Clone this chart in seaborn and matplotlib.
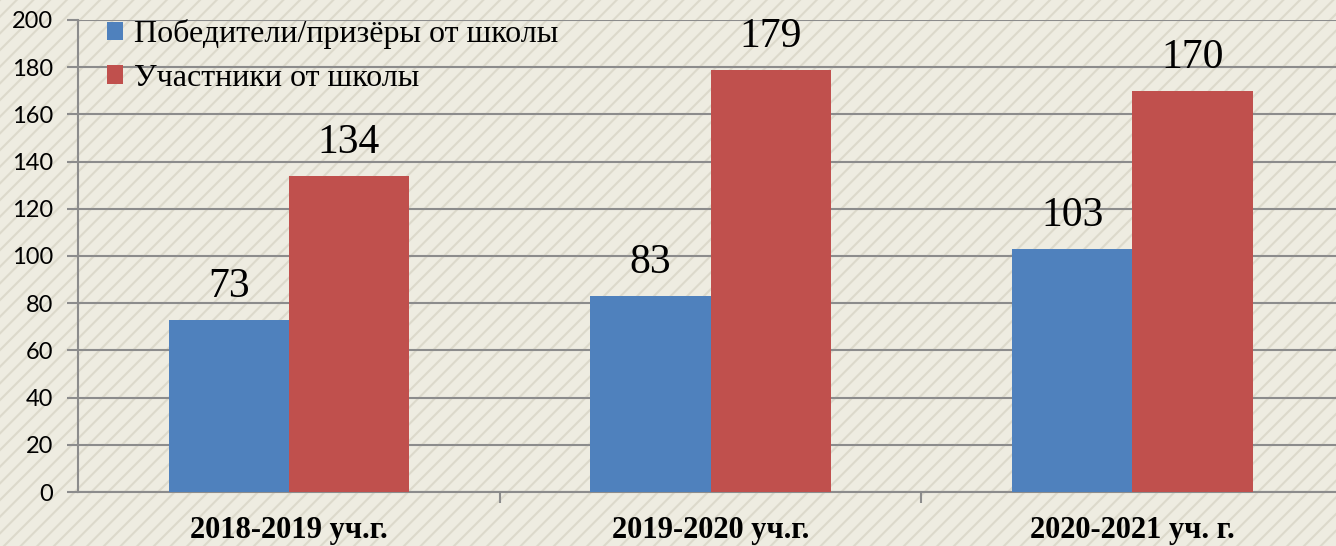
import matplotlib.pyplot as plt
import matplotlib.patches as mpatches
import seaborn as sns
import pandas as pd

# chart data
years = ["2018-2019 уч.г.", "2019-2020 уч.г.", "2020-2021 уч. г."]
winners = [73, 83, 103]
participants = [134, 179, 170]
series_names = ["Победители/призёры от школы", "Участники от школы"]

df = pd.DataFrame({
    "year": years * 2,
    "value": winners + participants,
    "series": [series_names[0]] * 3 + [series_names[1]] * 3,
})

sns.set_style("white")
plt.rcParams["font.family"] = ["Lato", "DejaVu Sans"]
plt.rcParams["hatch.linewidth"] = 1.5

bg = "#EEECE1"
fig = plt.figure(figsize=(13.36, 5.46), dpi=100, facecolor=bg)

# striped backdrop like the slide texture
stripes = mpatches.Rectangle((0, 0), 1, 1, transform=fig.transFigure,
                             facecolor=bg, edgecolor="#DCD9CB", hatch="//",
                             linewidth=0, zorder=-10)
fig.patches.append(stripes)

ax = fig.add_axes([0.0584, 0.0989, 0.947, 0.8645])
ax.patch.set_alpha(0)

palette = ["#4F81BD", "#C0504D"]
sns.barplot(data=df, x="year", y="value", hue="series", palette=palette,
            width=0.57, saturation=1, ax=ax, zorder=3,
            edgecolor="none", linewidth=0)

ax.set_ylim(0, 200)
ax.set_xlim(-0.5, 2.5)
ax.set_yticks(range(0, 201, 20))
ax.yaxis.grid(True, color="#8C8C8C", linewidth=1.5, zorder=0)
ax.set_axisbelow(True)
ax.set_xlabel("")
ax.set_ylabel("")

for s in ["top", "right"]:
    ax.spines[s].set_visible(False)
for s in ["left", "bottom"]:
    ax.spines[s].set_color("#8C8C8C")
    ax.spines[s].set_linewidth(1.5)

ax.tick_params(axis="y", left=True, direction="out", length=8, width=1.5,
               color="#8C8C8C", labelsize=17, labelcolor="black", pad=10)
ax.set_xticks([0, 1, 2])
ax.set_xticklabels(years, fontsize=22, fontweight="bold",
                   family="Liberation Serif", color="black")
ax.tick_params(axis="x", which="major", bottom=False, length=0, pad=17)
ax.set_xticks([0.5, 1.5], minor=True)
ax.tick_params(axis="x", which="minor", bottom=True, direction="out",
               length=8, width=1.5, color="#8C8C8C")

for cont in ax.containers:
    ax.bar_label(cont, fontsize=30, family="Liberation Serif", color="black",
                 padding=10)

leg = ax.legend(loc="upper left", bbox_to_anchor=(0.0, 1.062), frameon=False,
                prop={"family": "Liberation Serif", "size": 23},
                handlelength=0.5, handleheight=0.5, handletextpad=0.35,
                labelspacing=0.45)
for t in leg.get_texts():
    t.set_color("black")

fig.savefig("out.png", dpi=100, facecolor=bg)
